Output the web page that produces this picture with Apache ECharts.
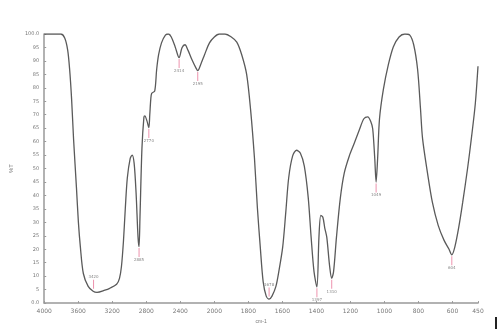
<!DOCTYPE html>
<html>
<head>
<meta charset="utf-8">
<script src="https://cdn.jsdelivr.net/npm/echarts@6/dist/echarts.min.js"></script>
<style>
  html, body { margin: 0; padding: 0; background: #fff; }
  #chart { width: 499px; height: 329px; }
</style>
</head>
<body>
<div id="chart"></div>
<script>
// espectro IR: numero de onda (cm-1) e transmitancia (%T)
var wavenumbers = [4000, 3804, 3759, 3724, 3701, 3678, 3655, 3621, 3598, 3575, 3540, 3483, 3425, 3379, 3287, 3230, 3149, 3115, 3092, 3069, 3046, 3023, 2989, 2966, 2943, 2920, 2897, 2885, 2874, 2851, 2828, 2817, 2793, 2770, 2759, 2747, 2736, 2701, 2678, 2655, 2621, 2575, 2540, 2506, 2460, 2414, 2380, 2345, 2310, 2264, 2218, 2195, 2161, 2115, 2057, 2000, 1971, 1937, 1902, 1868, 1839, 1810, 1787, 1764, 1747, 1730, 1713, 1695, 1678, 1661, 1638, 1621, 1598, 1580, 1563, 1540, 1517, 1494, 1471, 1448, 1431, 1414, 1397, 1385, 1374, 1362, 1351, 1339, 1322, 1310, 1299, 1282, 1259, 1236, 1207, 1178, 1149, 1121, 1098, 1080, 1069, 1057, 1049, 1040, 1029, 1006, 977, 948, 914, 880, 851, 828, 805, 788, 776, 747, 718, 684, 650, 621, 604, 586, 563, 540, 511, 489, 466, 450];
var transmittance = [100, 100, 98.5, 94, 86.8, 75.8, 61, 42.9, 30, 20.9, 11, 6.2, 4.4, 4.0, 4.8, 5.5, 7.0, 9.2, 13.6, 22.7, 35.5, 46.5, 53.8, 55, 52, 41, 24.5, 21, 32, 57.5, 69, 69.6, 67.8, 65.2, 70, 75.8, 78, 78.8, 86.8, 92.3, 96.7, 99.6, 100, 98.9, 95.2, 91.2, 94.9, 96, 94, 90.5, 87.5, 86.4, 88.6, 92.3, 96.7, 98.9, 100, 100, 99, 97, 92.3, 85, 72, 53.8, 35.5, 20.9, 8, 2.6, 1.5, 2.6, 6.2, 11.7, 20.9, 33.7, 46.5, 54.6, 56.8, 55.7, 50.9, 39.2, 24.5, 11.7, 6, 24.5, 32.6, 31.9, 28, 24.5, 13.6, 9.2, 11.7, 24.5, 39.2, 48.4, 54.6, 59.3, 64.1, 68.5, 69.2, 67.4, 64.8, 53.8, 45, 53.8, 68.5, 79.5, 88.6, 95.2, 98.9, 100, 99.6, 96, 86.8, 72.2, 61.2, 48.4, 37.4, 28.9, 23.4, 20.1, 17.9, 20.9, 28.2, 37.4, 50.2, 61.2, 74, 88];

// picos marcados
var peakWn = [3420, 2885, 2770, 2414, 2195, 1678, 1397, 1310, 1049, 604];
var peakT = [4.4, 21, 65.2, 91.2, 86.4, 1.5, 6, 9.2, 45, 17.9];
var peakText = ['3420', '2885', '2770', '2414', '2195', '1678', '1397', '1310', '1049', '604'];
var peakAbove = [true, false, false, false, false, true, false, false, false, false];

var tickWn = [4000, 3600, 3200, 2800, 2400, 2000, 1800, 1600, 1400, 1200, 1000, 800, 600, 450];

// escala do eixo x: 400 cm-1 por divisao acima de 2000, 200 abaixo
function toPos(wn) {
    return wn >= 2000 ? (4000 - wn) / 400 : 5 + (2000 - wn) / 200;
}
function toWn(u) {
    return u <= 5 ? 4000 - 400 * u : 2000 - 200 * (u - 5);
}

var dom = document.getElementById('chart');
var myChart = echarts.init(dom, null, { renderer: 'canvas' });

var curve = wavenumbers.map(function (w, i) { return [toPos(w), transmittance[i]]; });
var peaks = peakWn.map(function (w, i) {
    var up = peakAbove[i];
    return {
        value: [toPos(w), up ? peakT[i] + 2.6 : peakT[i] - 2.2],
        label: { position: up ? 'top' : 'bottom', distance: 1 }
    };
});

var option = {
    backgroundColor: '#fff',
    animation: false,
    grid: { left: 33, right: 21, top: 34, bottom: 22 },
    xAxis: {
        type: 'value',
        min: 0,
        max: toPos(450),
        interval: 1,
        name: 'cm-1',
        nameLocation: 'middle',
        nameGap: 14,
        nameTextStyle: { fontSize: 5, color: '#777' },
        splitLine: { show: false },
        axisLine: { lineStyle: { color: '#999', width: 1.5 } },
        axisTick: { inside: true, length: 2, lineStyle: { color: '#999' } },
        axisLabel: {
            fontSize: 6,
            color: '#777',
            margin: 5,
            fontFamily: 'DejaVu Sans',
            formatter: function (v) { return Math.round(toWn(v)); }
        }
    },
    yAxis: {
        type: 'value',
        min: 0,
        max: 100,
        interval: 5,
        name: '%T',
        nameLocation: 'middle',
        nameRotate: 90,
        nameGap: 21,
        nameTextStyle: { fontSize: 6, color: '#777' },
        splitLine: { show: false },
        axisLine: { show: true, lineStyle: { color: '#999', width: 1.5 } },
        axisTick: { show: true, inside: true, length: 2, lineStyle: { color: '#999' } },
        axisLabel: {
            fontSize: 5,
            color: '#777',
            margin: 5,
            fontFamily: 'DejaVu Sans',
            formatter: function (v) {
                if (v === 100) return '100.0';
                if (v === 0) return '0.0';
                return v;
            }
        }
    },
    series: [
        {
            type: 'line',
            data: curve,
            showSymbol: false,
            smooth: 0.3,
            lineStyle: { color: '#5a5a5a', width: 1.3 },
            z: 3
        },
        {
            type: 'scatter',
            data: peaks,
            symbol: 'rect',
            symbolSize: [1, 9],
            itemStyle: { color: '#e8789a' },
            label: {
                show: true,
                fontSize: 4,
                color: '#666',
                fontFamily: 'DejaVu Sans',
                formatter: function (p) { return peakText[p.dataIndex]; }
            },
            z: 2
        }
    ],
    graphic: [
        { type: 'rect', left: 495, top: 317, shape: { width: 2, height: 12 }, style: { fill: '#222' } }
    ]
};

myChart.setOption(option);
</script>
</body>
</html>
